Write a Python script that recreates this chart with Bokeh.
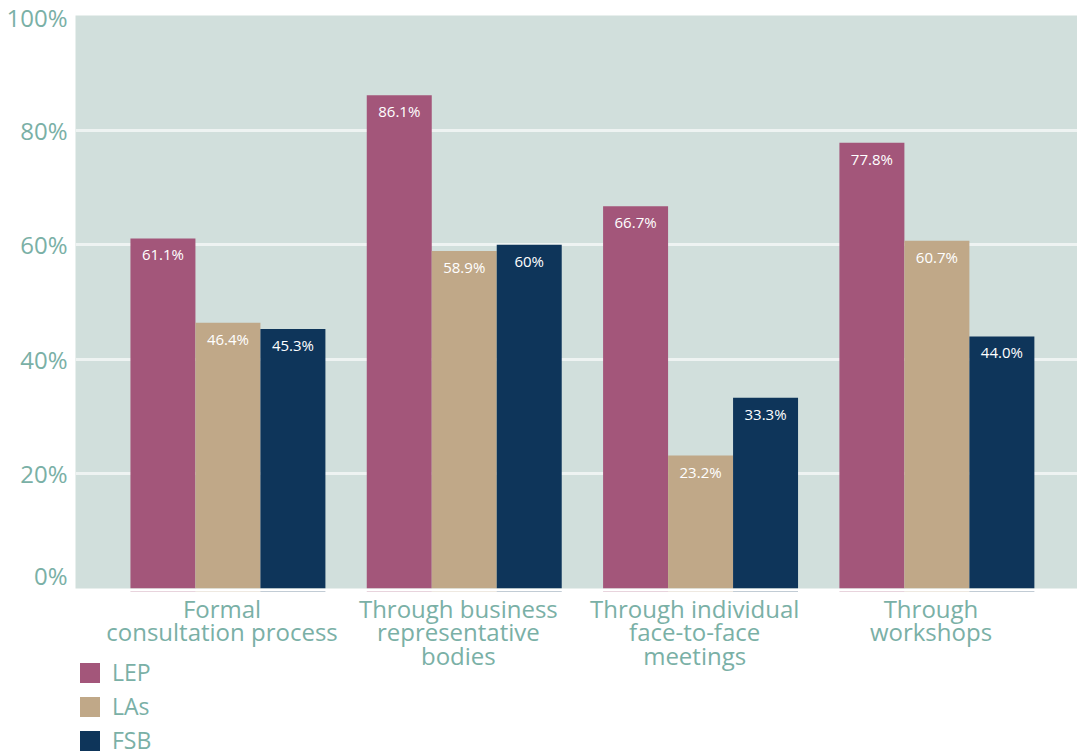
from bokeh.plotting import figure
from bokeh.layouts import column
from bokeh.models import (ColumnDataSource, FactorRange, FixedTicker, PrintfTickFormatter,
                          Legend, LegendItem, Range1d)
from bokeh.transform import dodge
from bokeh.core.properties import value
from bokeh.embed import file_html
from bokeh.resources import INLINE

cats = ["Formal\nconsultation process", "Through business\nrepresentative\nbodies",
        "Through individual\nface-to-face\nmeetings", "Through\nworkshops"]
lep = [61.1, 86.1, 66.7, 77.8]
las = [46.4, 58.9, 23.2, 60.7]
fsb = [45.3, 60.0, 33.3, 44.0]
lep_lbl = ["61.1%", "86.1%", "66.7%", "77.8%"]
las_lbl = ["46.4%", "58.9%", "23.2%", "60.7%"]
fsb_lbl = ["45.3%", "60%", "33.3%", "44.0%"]
series = ["LEP", "LAs", "FSB"]
y_ticks = [0, 20, 40, 60, 80, 100]

colors = ["#a3567a", "#c0a888", "#0e355a"]
teal = "#7ab0a6"
FONT = "Open Sans"

src = ColumnDataSource(dict(cat=cats, lep=lep, las=las, fsb=fsb,
                            lep_lbl=lep_lbl, las_lbl=las_lbl, fsb_lbl=fsb_lbl))

xr = FactorRange(*cats, range_padding=0.06)
p = figure(x_range=xr, y_range=(0, 100),
           frame_width=1002, frame_height=573,
           min_border_left=75, min_border_right=0, min_border_top=15, min_border_bottom=3,
           output_backend="svg", toolbar_location=None)
p.background_fill_color = "#d1dfdc"
p.border_fill_color = "white"
p.outline_line_color = None

bw = 0.275
d = 0.025
offs = [-bw + d, d, bw + d]
keys = ["lep", "las", "fsb"]
for k, off, col in zip(keys, offs, colors):
    p.vbar(x=dodge("cat", off, range=xr), top=k, width=bw, source=src,
           fill_color=col, line_color=None)
    p.text(x=dodge("cat", off, range=xr), y=k, text=k + "_lbl", source=src,
           text_color="white", text_font=value(FONT), text_font_size="15px",
           text_align="center", text_baseline="top", y_offset=6)

p.xgrid.grid_line_color = None
p.ygrid.grid_line_color = "#eef3f2"
p.ygrid.grid_line_width = 3
p.ygrid.ticker = FixedTicker(ticks=y_ticks)

p.xaxis.visible = False
p.yaxis.ticker = FixedTicker(ticks=y_ticks)
p.yaxis.formatter = PrintfTickFormatter(format="%d%%")
p.yaxis.axis_line_color = None
p.yaxis.major_tick_line_color = None
p.yaxis.minor_tick_line_color = None
p.yaxis.major_label_text_color = teal
p.yaxis.major_label_text_font = FONT
p.yaxis.major_label_text_font_size = "24px"
p.yaxis.major_label_standoff = 2

# lower panel: category labels and legend (shares the categorical x range)
lg = figure(x_range=xr, y_range=Range1d(-2, -1),
            frame_width=1002, frame_height=165,
            min_border_left=75, min_border_right=0, min_border_top=0, min_border_bottom=0,
            output_backend="svg", toolbar_location=None)
lg.axis.visible = False
lg.grid.visible = False
lg.outline_line_color = None
lg.text(x="cat", y=-1, text="cat", source=src, text_color=teal,
        text_font=value(FONT), text_font_size="24px", text_align="center",
        text_baseline="top", text_line_height=0.72, y_offset=0)
lrs = [lg.vbar(x=dodge("cat", off, range=xr), top=k, width=bw, source=src,
               fill_color=c, line_color=None) for k, off, c in zip(keys, offs, colors)]
legend = Legend(items=[LegendItem(label=s, renderers=[r]) for s, r in zip(series, lrs)],
                location=(2, 0), orientation="vertical",
                glyph_width=25, glyph_height=25, spacing=2, padding=0, margin=0,
                label_standoff=10, label_text_font=FONT, label_text_font_size="23px",
                label_text_color=teal, border_line_color=None, background_fill_alpha=0)
lg.add_layout(legend, "center")

layout = column(p, lg, spacing=0)
open("out.html", "w").write(file_html(layout, INLINE))
